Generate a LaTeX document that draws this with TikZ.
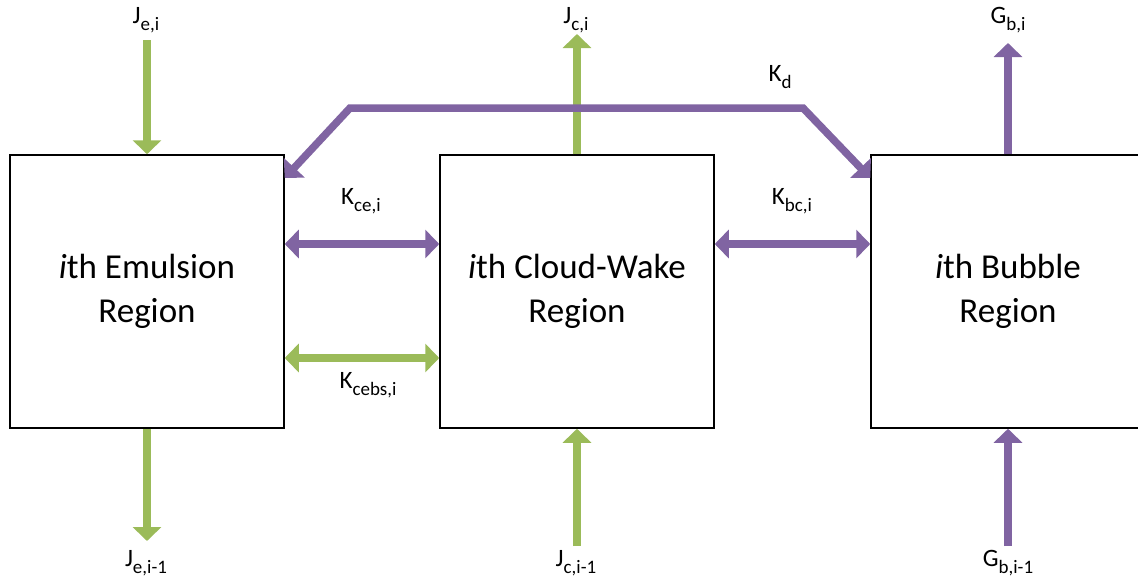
\documentclass[tikz,border=0pt]{standalone}
\usepackage{fontspec}
\setmainfont{Carlito}
\usetikzlibrary{arrows.meta}
\definecolor{gr}{RGB}{155,187,89}
\definecolor{pu}{RGB}{128,100,162}
\newcommand{\lsub}[1]{\raisebox{-7pt}{\fontsize{19}{19}\selectfont #1}}
\tikzset{
  x=1pt,y=-1pt,
  region/.style={draw=black,line width=1.5pt,minimum width=274pt,minimum height=273pt,inner sep=0pt,align=center,font=\fontsize{35}{44}\selectfont},
  tip/.tip={Triangle[width=28pt,length=14pt]},
  flow/.style={line width=7.5pt,-tip},
  dflow/.style={line width=7.5pt,tip-tip},
  lbl/.style={font=\fontsize{25}{28}\selectfont,inner sep=1pt}
}
\begin{document}
\begin{tikzpicture}
\useasboundingbox (0,0) rectangle (1138,581);
\clip (0,0) rectangle (1138,581);
\node[region] (em) at (147,291.5) {\textit{i}th Emulsion\\Region};
\node[region] (cw) at (577,291.5) {\textit{i}th Cloud-Wake\\Region};
\node[region] (bu) at (1008,291.5) {\textit{i}th Bubble\\Region};
% labels
\node[lbl] (je) at (146,20) {J\lsub{e,i}};
\node[lbl] (je1) at (146,563) {J\lsub{e,i-1}};
\node[lbl] (jc) at (576,20) {J\lsub{c,i}};
\node[lbl] (jc1) at (576,563) {J\lsub{c,i-1}};
\node[lbl] (gb) at (1008,20) {G\lsub{b,i}};
\node[lbl] (gb1) at (1008,563) {G\lsub{b,i-1}};
\node[lbl] (kd) at (780,77) {K\lsub{d}};
\node[lbl] (kce) at (361,201) {K\lsub{ce,i}};
\node[lbl] (kcebs) at (368,385) {K\lsub{cebs,i}};
\node[lbl] (kbc) at (792,201) {K\lsub{bc,i}};
\coordinate (kdl) at (350,108);
\coordinate (kdr) at (803,108);
% vertical flows
\draw[flow,gr] (em.north |- 0,40) -- (em.north);
\draw[flow,gr] (em.south) -- (em.south |- 0,541);
\draw[flow,gr] (cw.north) -- (cw.north |- 0,34);
\draw[flow,gr] (cw.south |- 0,546) -- (cw.south);
\draw[flow,pu] (bu.north) -- (bu.north |- 0,43);
\draw[flow,pu] (bu.south |- 0,546) -- (bu.south);
% horizontal exchanges
\draw[dflow,pu] (em.east |- 0,244) -- (cw.west |- 0,244);
\draw[dflow,gr] (em.east |- 0,358) -- (cw.west |- 0,358);
\draw[dflow,pu] (cw.east |- 0,244) -- (bu.west |- 0,244);
% K_d
\draw[dflow,pu,line join=miter] (em.east |- 0,178) -- (kdl) -- (kdr) -- (bu.west |- 0,178);
\end{tikzpicture}
\end{document}
